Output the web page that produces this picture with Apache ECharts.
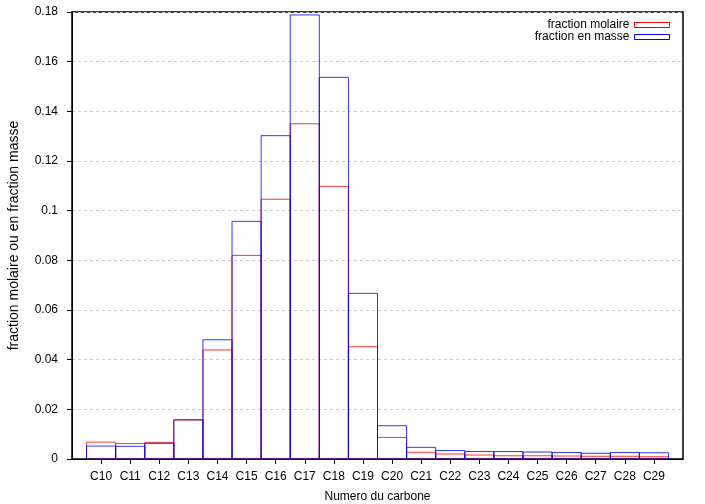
<!DOCTYPE html>
<html>
<head>
<meta charset="utf-8">
<script src="https://cdn.jsdelivr.net/npm/echarts@6/dist/echarts.min.js"></script>
<style>html,body{margin:0;padding:0;background:#fff}#c{width:705px;height:504px}</style>
</head>
<body>
<div id="c"></div>
<script>
const categories = ['C10','C11','C12','C13','C14','C15','C16','C17','C18','C19','C20','C21','C22','C23','C24','C25','C26','C27','C28','C29'];
const carbonNumbers = [10,11,12,13,14,15,16,17,18,19,20,21,22,23,24,25,26,27,28,29];
const fractionMolaire = [0.0068,0.0062,0.0067,0.0157,0.0439,0.0820,0.1046,0.1350,0.1098,0.0452,0.0087,0.0027,0.0020,0.0016,0.0013,0.0013,0.0012,0.0011,0.0011,0.0009];
const fractionMasse = [0.0052,0.0051,0.0063,0.0158,0.0480,0.0957,0.1302,0.1788,0.1537,0.0667,0.0134,0.0047,0.0034,0.0030,0.0030,0.0028,0.0026,0.0023,0.0026,0.0025];
const yTicks = [0,0.02,0.04,0.06,0.08,0.1,0.12,0.14,0.16,0.18];

const FONT = 'Liberation Sans';
const RED = 'rgba(255,0,0,0.8)';
const BLUE = 'rgba(0,0,255,0.8)';

function boxRenderer(color) {
  return function (params, api) {
    const x = api.value(0), y = api.value(1);
    const p0 = api.coord([x - 0.5, y]);
    const p1 = api.coord([x + 0.5, 0]);
    return {
      type: 'rect',
      shape: { x: p0[0], y: p0[1], width: p1[0] - p0[0], height: p1[1] - p0[1] },
      style: { fill: 'none', stroke: color, lineWidth: 1 }
    };
  };
}

const labelMap = {};
carbonNumbers.forEach((n, i) => labelMap[n] = categories[i]);

const chart = echarts.init(document.getElementById('c'), null, { renderer: 'canvas' });
chart.setOption({
  animation: false,
  backgroundColor: '#fff',
  textStyle: { fontFamily: FONT },
  grid: { left: 72, right: 22, top: 12, bottom: 45, outerBoundsMode: 'none', containLabel: false, show: true, borderColor: '#000', borderWidth: 1.5, backgroundColor: 'transparent' },
  legend: {
    orient: 'vertical', right: 30, top: 14, align: 'right',
    itemWidth: 35, itemHeight: 5, itemGap: 0,
    textStyle: { fontFamily: FONT, fontSize: 12, color: '#000', lineHeight: 12 },
    data: [
      { name: 'fraction molaire', icon: 'rect', itemStyle: { color: 'rgba(0,0,0,0)', borderColor: '#ff0000', borderWidth: 1 } },
      { name: 'fraction en masse', icon: 'rect', itemStyle: { color: 'rgba(0,0,0,0)', borderColor: '#0000ff', borderWidth: 1 } }
    ]
  },
  xAxis: {
    type: 'value', min: 9, max: 30, interval: 1,
    name: 'Numero du carbone', nameLocation: 'middle', nameGap: 32,
    nameTextStyle: { fontFamily: FONT, fontSize: 12, color: '#000' },
    axisLine: { lineStyle: { color: '#000', width: 1 } },
    axisTick: { show: true, length: 5, lineStyle: { color: '#000' }, customValues: carbonNumbers },
    axisLabel: { fontFamily: FONT, fontSize: 12, color: '#000', margin: 12, customValues: carbonNumbers, formatter: v => labelMap[v] || '' },
    splitLine: { show: false }
  },
  yAxis: {
    type: 'value', min: 0, max: 0.18, interval: 0.02,
    name: 'fraction molaire ou en fraction masse', nameLocation: 'middle', nameGap: 51, nameRotate: 90,
    nameTextStyle: { fontFamily: FONT, fontSize: 14, color: '#000' },
    axisLine: { show: true, lineStyle: { color: '#000', width: 1 } },
    axisTick: { show: true, length: 5, lineStyle: { color: '#000' } },
    axisLabel: { fontFamily: FONT, fontSize: 12, color: '#000', margin: 14, formatter: v => { const t = yTicks.find(k => Math.abs(k - v) < 1e-9); return t === undefined ? '' : String(t); } },
    splitLine: { show: true, lineStyle: { color: '#c8c8c8', type: [3, 3], width: 1 } }
  },
  series: [
    {
      name: 'fraction molaire', type: 'custom', renderItem: boxRenderer(RED),
      itemStyle: { color: 'rgba(0,0,0,0)', borderColor: '#ff0000' },
      encode: { x: 0, y: 1 },
      data: carbonNumbers.map((n, i) => [n, fractionMolaire[i]])
    },
    {
      name: 'fraction en masse', type: 'custom', renderItem: boxRenderer(BLUE),
      itemStyle: { color: 'rgba(0,0,0,0)', borderColor: '#0000ff' },
      encode: { x: 0, y: 1 },
      data: carbonNumbers.map((n, i) => [n, fractionMasse[i]])
    }
  ]
});
</script>
</body>
</html>
